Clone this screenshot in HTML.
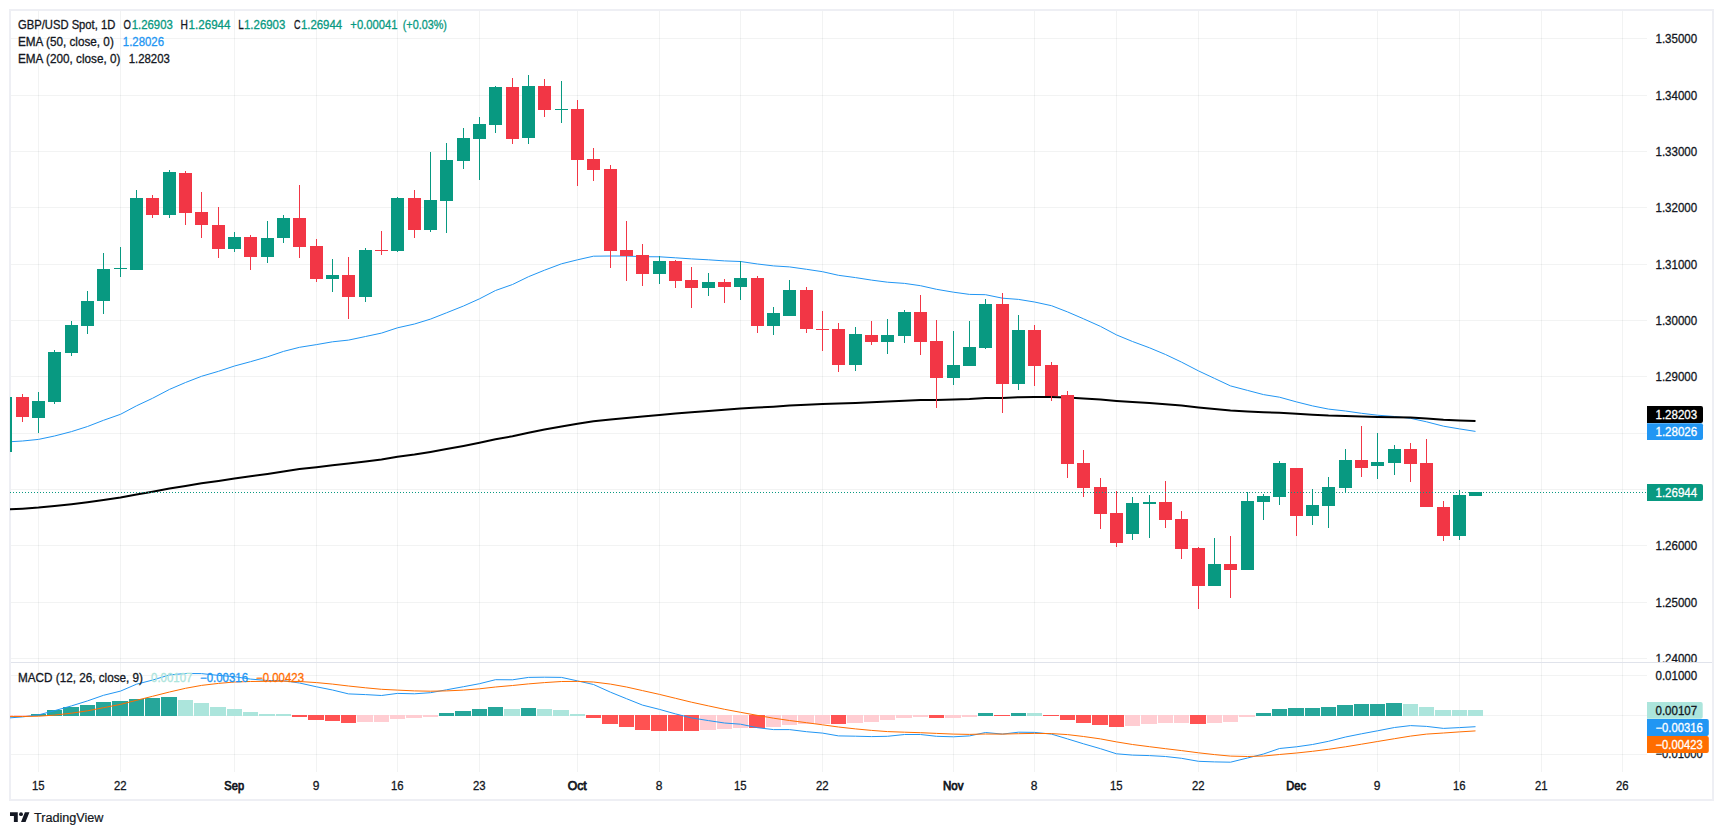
<!DOCTYPE html>
<html><head><meta charset="utf-8"><title>GBP/USD chart</title><style>html,body{margin:0;padding:0;background:#fff}svg{display:block}</style></head><body>
<svg width="1723" height="835" viewBox="0 0 1723 835" font-family='"Liberation Sans", Arial, sans-serif' font-size="12" fill="#131722">
<rect width="1723" height="835" fill="#fff"/>
<defs><clipPath id="pane"><rect x="10" y="10" width="1637" height="652"/></clipPath><clipPath id="mp"><rect x="10" y="663" width="1637" height="109"/></clipPath><clipPath id="ax1"><rect x="1647" y="10" width="66" height="652"/></clipPath></defs>
<g shape-rendering="crispEdges" fill="rgba(42,46,57,0.06)">
<rect x="38" y="11" width="1" height="761"/>
<rect x="120" y="11" width="1" height="761"/>
<rect x="234" y="11" width="1" height="761"/>
<rect x="316" y="11" width="1" height="761"/>
<rect x="397" y="11" width="1" height="761"/>
<rect x="479" y="11" width="1" height="761"/>
<rect x="577" y="11" width="1" height="761"/>
<rect x="659" y="11" width="1" height="761"/>
<rect x="740" y="11" width="1" height="761"/>
<rect x="822" y="11" width="1" height="761"/>
<rect x="953" y="11" width="1" height="761"/>
<rect x="1034" y="11" width="1" height="761"/>
<rect x="1116" y="11" width="1" height="761"/>
<rect x="1198" y="11" width="1" height="761"/>
<rect x="1296" y="11" width="1" height="761"/>
<rect x="1377" y="11" width="1" height="761"/>
<rect x="1459" y="11" width="1" height="761"/>
<rect x="1541" y="11" width="1" height="761"/>
<rect x="1622" y="11" width="1" height="761"/>
<rect x="11" y="38" width="1636" height="1"/>
<rect x="11" y="95" width="1636" height="1"/>
<rect x="11" y="151" width="1636" height="1"/>
<rect x="11" y="207" width="1636" height="1"/>
<rect x="11" y="264" width="1636" height="1"/>
<rect x="11" y="320" width="1636" height="1"/>
<rect x="11" y="376" width="1636" height="1"/>
<rect x="11" y="433" width="1636" height="1"/>
<rect x="11" y="489" width="1636" height="1"/>
<rect x="11" y="545" width="1636" height="1"/>
<rect x="11" y="602" width="1636" height="1"/>
<rect x="11" y="658" width="1636" height="1"/>
<rect x="11" y="675" width="1636" height="1"/>
<rect x="11" y="715" width="1636" height="1"/>
<rect x="11" y="754" width="1636" height="1"/>
</g>
<rect x="10" y="662" width="1703" height="1" fill="#E0E3EB" shape-rendering="crispEdges"/>
<rect x="10" y="10" width="1703" height="790" fill="none" stroke="#EEEFF4" stroke-width="2"/>
<g clip-path="url(#pane)">
<polyline points="5.5,442.0 22.5,441.0 38.5,439.4 54.5,436.0 71.5,431.6 87.5,426.5 103.5,420.3 120.5,414.3 136.5,405.8 152.5,398.3 169.5,389.4 185.5,382.5 201.5,376.3 218.5,371.3 234.5,366.0 250.5,361.7 267.5,356.8 283.5,351.4 299.5,347.3 316.5,344.6 332.5,341.8 348.5,340.1 365.5,336.5 381.5,333.1 397.5,327.8 414.5,324.0 430.5,319.1 446.5,312.8 463.5,306.0 479.5,298.8 495.5,290.5 512.5,284.5 528.5,276.7 544.5,270.2 561.5,263.8 577.5,259.8 593.5,256.2 610.5,256.0 626.5,256.0 642.5,256.7 659.5,256.8 675.5,257.8 691.5,258.9 708.5,259.8 724.5,260.9 740.5,261.5 757.5,264.0 773.5,265.9 789.5,266.9 806.5,269.3 822.5,271.7 838.5,275.3 855.5,277.6 871.5,280.1 887.5,282.2 904.5,283.4 920.5,285.7 936.5,289.3 953.5,292.2 969.5,294.4 985.5,294.7 1002.5,298.2 1018.5,299.4 1034.5,302.0 1051.5,305.7 1067.5,311.9 1083.5,318.8 1100.5,326.4 1116.5,334.9 1132.5,341.5 1149.5,347.8 1165.5,354.5 1181.5,362.1 1198.5,370.9 1214.5,378.4 1230.5,385.9 1247.5,390.4 1263.5,394.6 1279.5,397.2 1296.5,401.9 1312.5,405.9 1328.5,409.1 1345.5,411.0 1361.5,413.3 1377.5,415.2 1394.5,416.5 1410.5,418.3 1426.5,421.8 1443.5,426.2 1459.5,428.9 1475.5,431.4" fill="none" stroke="#2196F3" stroke-width="1" stroke-linejoin="round"/>
<polyline points="5.5,509.6 22.5,508.7 38.5,507.6 54.5,506.0 71.5,504.2 87.5,502.2 103.5,499.9 120.5,497.6 136.5,494.6 152.5,491.8 169.5,488.6 185.5,485.9 201.5,483.3 218.5,480.9 234.5,478.5 250.5,476.3 267.5,473.9 283.5,471.4 299.5,469.1 316.5,467.2 332.5,465.3 348.5,463.6 365.5,461.5 381.5,459.4 397.5,456.8 414.5,454.6 430.5,452.0 446.5,449.1 463.5,446.0 479.5,442.8 495.5,439.3 512.5,436.3 528.5,432.8 544.5,429.6 561.5,426.4 577.5,423.7 593.5,421.2 610.5,419.5 626.5,417.9 642.5,416.4 659.5,414.9 675.5,413.5 691.5,412.3 708.5,411.0 724.5,409.7 740.5,408.4 757.5,407.6 773.5,406.7 789.5,405.5 806.5,404.7 822.5,404.0 838.5,403.6 855.5,402.9 871.5,402.3 887.5,401.6 904.5,400.7 920.5,400.1 936.5,399.9 953.5,399.5 969.5,399.0 985.5,398.1 1002.5,397.9 1018.5,397.2 1034.5,396.9 1051.5,396.9 1067.5,397.6 1083.5,398.5 1100.5,399.6 1116.5,401.0 1132.5,402.1 1149.5,403.0 1165.5,404.2 1181.5,405.6 1198.5,407.4 1214.5,409.0 1230.5,410.6 1247.5,411.5 1263.5,412.3 1279.5,412.8 1296.5,413.8 1312.5,414.7 1328.5,415.5 1345.5,415.9 1361.5,416.4 1377.5,416.9 1394.5,417.2 1410.5,417.6 1426.5,418.5 1443.5,419.7 1459.5,420.4 1475.5,421.1" fill="none" stroke="#000" stroke-width="2" stroke-linejoin="round"/>
<g shape-rendering="crispEdges">
<rect x="-1" y="397" width="13" height="55" fill="#089981"/>
<rect x="22" y="394" width="1" height="28" fill="#F23645"/>
<rect x="16" y="397" width="13" height="20" fill="#F23645"/>
<rect x="38" y="392" width="1" height="41" fill="#089981"/>
<rect x="32" y="401" width="13" height="17" fill="#089981"/>
<rect x="54" y="350" width="1" height="54" fill="#089981"/>
<rect x="48" y="352" width="13" height="50" fill="#089981"/>
<rect x="71" y="321" width="1" height="35" fill="#089981"/>
<rect x="65" y="325" width="13" height="28" fill="#089981"/>
<rect x="87" y="291" width="1" height="43" fill="#089981"/>
<rect x="81" y="301" width="13" height="25" fill="#089981"/>
<rect x="103" y="253" width="1" height="61" fill="#089981"/>
<rect x="97" y="269" width="13" height="32" fill="#089981"/>
<rect x="120" y="247" width="1" height="30" fill="#089981"/>
<rect x="114" y="268" width="13" height="1" fill="#089981"/>
<rect x="136" y="190" width="1" height="80" fill="#089981"/>
<rect x="130" y="198" width="13" height="72" fill="#089981"/>
<rect x="152" y="195" width="1" height="23" fill="#F23645"/>
<rect x="146" y="198" width="13" height="17" fill="#F23645"/>
<rect x="169" y="170" width="1" height="48" fill="#089981"/>
<rect x="163" y="172" width="13" height="43" fill="#089981"/>
<rect x="185" y="171" width="1" height="54" fill="#F23645"/>
<rect x="179" y="173" width="13" height="40" fill="#F23645"/>
<rect x="201" y="192" width="1" height="46" fill="#F23645"/>
<rect x="195" y="212" width="13" height="13" fill="#F23645"/>
<rect x="218" y="207" width="1" height="51" fill="#F23645"/>
<rect x="212" y="225" width="13" height="24" fill="#F23645"/>
<rect x="234" y="232" width="1" height="20" fill="#089981"/>
<rect x="228" y="237" width="13" height="12" fill="#089981"/>
<rect x="250" y="235" width="1" height="35" fill="#F23645"/>
<rect x="244" y="237" width="13" height="20" fill="#F23645"/>
<rect x="267" y="221" width="1" height="42" fill="#089981"/>
<rect x="261" y="238" width="13" height="19" fill="#089981"/>
<rect x="283" y="215" width="1" height="28" fill="#089981"/>
<rect x="277" y="218" width="13" height="20" fill="#089981"/>
<rect x="299" y="185" width="1" height="73" fill="#F23645"/>
<rect x="293" y="218" width="13" height="29" fill="#F23645"/>
<rect x="316" y="239" width="1" height="43" fill="#F23645"/>
<rect x="310" y="246" width="13" height="33" fill="#F23645"/>
<rect x="332" y="259" width="1" height="33" fill="#089981"/>
<rect x="326" y="275" width="13" height="4" fill="#089981"/>
<rect x="348" y="257" width="1" height="62" fill="#F23645"/>
<rect x="342" y="275" width="13" height="22" fill="#F23645"/>
<rect x="365" y="248" width="1" height="54" fill="#089981"/>
<rect x="359" y="250" width="13" height="47" fill="#089981"/>
<rect x="381" y="231" width="1" height="24" fill="#F23645"/>
<rect x="375" y="250" width="13" height="1" fill="#F23645"/>
<rect x="397" y="197" width="1" height="55" fill="#089981"/>
<rect x="391" y="198" width="13" height="53" fill="#089981"/>
<rect x="414" y="190" width="1" height="48" fill="#F23645"/>
<rect x="408" y="198" width="13" height="32" fill="#F23645"/>
<rect x="430" y="152" width="1" height="80" fill="#089981"/>
<rect x="424" y="200" width="13" height="30" fill="#089981"/>
<rect x="446" y="143" width="1" height="90" fill="#089981"/>
<rect x="440" y="160" width="13" height="41" fill="#089981"/>
<rect x="463" y="128" width="1" height="41" fill="#089981"/>
<rect x="457" y="138" width="13" height="23" fill="#089981"/>
<rect x="479" y="117" width="1" height="63" fill="#089981"/>
<rect x="473" y="124" width="13" height="15" fill="#089981"/>
<rect x="495" y="86" width="1" height="47" fill="#089981"/>
<rect x="489" y="87" width="13" height="38" fill="#089981"/>
<rect x="512" y="78" width="1" height="66" fill="#F23645"/>
<rect x="506" y="87" width="13" height="52" fill="#F23645"/>
<rect x="528" y="75" width="1" height="69" fill="#089981"/>
<rect x="522" y="86" width="13" height="52" fill="#089981"/>
<rect x="544" y="79" width="1" height="38" fill="#F23645"/>
<rect x="538" y="86" width="13" height="24" fill="#F23645"/>
<rect x="561" y="81" width="1" height="42" fill="#089981"/>
<rect x="555" y="109" width="13" height="1" fill="#089981"/>
<rect x="577" y="100" width="1" height="86" fill="#F23645"/>
<rect x="571" y="109" width="13" height="51" fill="#F23645"/>
<rect x="593" y="148" width="1" height="33" fill="#F23645"/>
<rect x="587" y="159" width="13" height="11" fill="#F23645"/>
<rect x="610" y="165" width="1" height="103" fill="#F23645"/>
<rect x="604" y="169" width="13" height="82" fill="#F23645"/>
<rect x="626" y="221" width="1" height="60" fill="#F23645"/>
<rect x="620" y="250" width="13" height="6" fill="#F23645"/>
<rect x="642" y="244" width="1" height="42" fill="#F23645"/>
<rect x="636" y="255" width="13" height="19" fill="#F23645"/>
<rect x="659" y="256" width="1" height="28" fill="#089981"/>
<rect x="653" y="261" width="13" height="13" fill="#089981"/>
<rect x="675" y="260" width="1" height="28" fill="#F23645"/>
<rect x="669" y="261" width="13" height="20" fill="#F23645"/>
<rect x="691" y="267" width="1" height="41" fill="#F23645"/>
<rect x="685" y="280" width="13" height="8" fill="#F23645"/>
<rect x="708" y="273" width="1" height="23" fill="#089981"/>
<rect x="702" y="282" width="13" height="6" fill="#089981"/>
<rect x="724" y="279" width="1" height="24" fill="#F23645"/>
<rect x="718" y="282" width="13" height="5" fill="#F23645"/>
<rect x="740" y="261" width="1" height="39" fill="#089981"/>
<rect x="734" y="278" width="13" height="9" fill="#089981"/>
<rect x="757" y="276" width="1" height="57" fill="#F23645"/>
<rect x="751" y="278" width="13" height="48" fill="#F23645"/>
<rect x="773" y="307" width="1" height="28" fill="#089981"/>
<rect x="767" y="313" width="13" height="13" fill="#089981"/>
<rect x="789" y="280" width="1" height="36" fill="#089981"/>
<rect x="783" y="290" width="13" height="26" fill="#089981"/>
<rect x="806" y="287" width="1" height="46" fill="#F23645"/>
<rect x="800" y="290" width="13" height="39" fill="#F23645"/>
<rect x="822" y="311" width="1" height="40" fill="#F23645"/>
<rect x="816" y="329" width="13" height="1" fill="#F23645"/>
<rect x="838" y="323" width="1" height="49" fill="#F23645"/>
<rect x="832" y="329" width="13" height="36" fill="#F23645"/>
<rect x="855" y="327" width="1" height="44" fill="#089981"/>
<rect x="849" y="334" width="13" height="31" fill="#089981"/>
<rect x="871" y="321" width="1" height="24" fill="#F23645"/>
<rect x="865" y="335" width="13" height="7" fill="#F23645"/>
<rect x="887" y="319" width="1" height="35" fill="#089981"/>
<rect x="881" y="335" width="13" height="7" fill="#089981"/>
<rect x="904" y="310" width="1" height="33" fill="#089981"/>
<rect x="898" y="312" width="13" height="24" fill="#089981"/>
<rect x="920" y="295" width="1" height="60" fill="#F23645"/>
<rect x="914" y="312" width="13" height="30" fill="#F23645"/>
<rect x="936" y="320" width="1" height="88" fill="#F23645"/>
<rect x="930" y="341" width="13" height="37" fill="#F23645"/>
<rect x="953" y="331" width="1" height="54" fill="#089981"/>
<rect x="947" y="365" width="13" height="13" fill="#089981"/>
<rect x="969" y="321" width="1" height="45" fill="#089981"/>
<rect x="963" y="347" width="13" height="19" fill="#089981"/>
<rect x="985" y="299" width="1" height="50" fill="#089981"/>
<rect x="979" y="304" width="13" height="44" fill="#089981"/>
<rect x="1002" y="293" width="1" height="120" fill="#F23645"/>
<rect x="996" y="304" width="13" height="80" fill="#F23645"/>
<rect x="1018" y="315" width="1" height="75" fill="#089981"/>
<rect x="1012" y="330" width="13" height="54" fill="#089981"/>
<rect x="1034" y="325" width="1" height="61" fill="#F23645"/>
<rect x="1028" y="330" width="13" height="36" fill="#F23645"/>
<rect x="1051" y="362" width="1" height="39" fill="#F23645"/>
<rect x="1045" y="365" width="13" height="31" fill="#F23645"/>
<rect x="1067" y="391" width="1" height="87" fill="#F23645"/>
<rect x="1061" y="395" width="13" height="69" fill="#F23645"/>
<rect x="1083" y="450" width="1" height="47" fill="#F23645"/>
<rect x="1077" y="463" width="13" height="25" fill="#F23645"/>
<rect x="1100" y="478" width="1" height="51" fill="#F23645"/>
<rect x="1094" y="487" width="13" height="27" fill="#F23645"/>
<rect x="1116" y="491" width="1" height="56" fill="#F23645"/>
<rect x="1110" y="513" width="13" height="30" fill="#F23645"/>
<rect x="1132" y="497" width="1" height="43" fill="#089981"/>
<rect x="1126" y="503" width="13" height="31" fill="#089981"/>
<rect x="1149" y="495" width="1" height="43" fill="#089981"/>
<rect x="1143" y="502" width="13" height="2" fill="#089981"/>
<rect x="1165" y="481" width="1" height="47" fill="#F23645"/>
<rect x="1159" y="502" width="13" height="18" fill="#F23645"/>
<rect x="1181" y="511" width="1" height="48" fill="#F23645"/>
<rect x="1175" y="519" width="13" height="30" fill="#F23645"/>
<rect x="1198" y="547" width="1" height="62" fill="#F23645"/>
<rect x="1192" y="548" width="13" height="38" fill="#F23645"/>
<rect x="1214" y="538" width="1" height="48" fill="#089981"/>
<rect x="1208" y="564" width="13" height="22" fill="#089981"/>
<rect x="1230" y="536" width="1" height="62" fill="#F23645"/>
<rect x="1224" y="564" width="13" height="6" fill="#F23645"/>
<rect x="1247" y="492" width="1" height="78" fill="#089981"/>
<rect x="1241" y="501" width="13" height="69" fill="#089981"/>
<rect x="1263" y="494" width="1" height="26" fill="#089981"/>
<rect x="1257" y="496" width="13" height="6" fill="#089981"/>
<rect x="1279" y="461" width="1" height="44" fill="#089981"/>
<rect x="1273" y="463" width="13" height="34" fill="#089981"/>
<rect x="1296" y="468" width="1" height="68" fill="#F23645"/>
<rect x="1290" y="468" width="13" height="48" fill="#F23645"/>
<rect x="1312" y="489" width="1" height="36" fill="#089981"/>
<rect x="1306" y="505" width="13" height="11" fill="#089981"/>
<rect x="1328" y="477" width="1" height="51" fill="#089981"/>
<rect x="1322" y="487" width="13" height="19" fill="#089981"/>
<rect x="1345" y="449" width="1" height="44" fill="#089981"/>
<rect x="1339" y="460" width="13" height="28" fill="#089981"/>
<rect x="1361" y="426" width="1" height="51" fill="#F23645"/>
<rect x="1355" y="460" width="13" height="8" fill="#F23645"/>
<rect x="1377" y="433" width="1" height="46" fill="#089981"/>
<rect x="1371" y="462" width="13" height="4" fill="#089981"/>
<rect x="1394" y="445" width="1" height="30" fill="#089981"/>
<rect x="1388" y="449" width="13" height="14" fill="#089981"/>
<rect x="1410" y="443" width="1" height="39" fill="#F23645"/>
<rect x="1404" y="449" width="13" height="15" fill="#F23645"/>
<rect x="1426" y="439" width="1" height="68" fill="#F23645"/>
<rect x="1420" y="463" width="13" height="44" fill="#F23645"/>
<rect x="1443" y="501" width="1" height="40" fill="#F23645"/>
<rect x="1437" y="507" width="13" height="29" fill="#F23645"/>
<rect x="1459" y="490" width="1" height="50" fill="#089981"/>
<rect x="1453" y="495" width="13" height="41" fill="#089981"/>
<rect x="1469" y="492" width="13" height="4" fill="#089981"/>
</g>
<line x1="10" y1="492.5" x2="1647" y2="492.5" stroke="#089981" stroke-width="1" stroke-dasharray="1 2" shape-rendering="crispEdges"/>
</g>
<g clip-path="url(#mp)">
<g shape-rendering="crispEdges">
<rect x="-2" y="715" width="15" height="1" fill="#FFCDD2"/>
<rect x="14" y="715" width="16" height="1" fill="#FFCDD2"/>
<rect x="31" y="714" width="15" height="2" fill="#26A69A"/>
<rect x="47" y="710" width="15" height="6" fill="#26A69A"/>
<rect x="63" y="707" width="16" height="9" fill="#26A69A"/>
<rect x="80" y="705" width="15" height="11" fill="#26A69A"/>
<rect x="96" y="702" width="15" height="14" fill="#26A69A"/>
<rect x="112" y="701" width="16" height="15" fill="#26A69A"/>
<rect x="129" y="699" width="15" height="17" fill="#26A69A"/>
<rect x="145" y="698" width="15" height="18" fill="#26A69A"/>
<rect x="161" y="697" width="16" height="19" fill="#26A69A"/>
<rect x="178" y="700" width="15" height="16" fill="#ACE5DC"/>
<rect x="194" y="703" width="15" height="13" fill="#ACE5DC"/>
<rect x="210" y="707" width="16" height="9" fill="#ACE5DC"/>
<rect x="227" y="709" width="15" height="7" fill="#ACE5DC"/>
<rect x="243" y="712" width="15" height="4" fill="#ACE5DC"/>
<rect x="259" y="714" width="16" height="2" fill="#ACE5DC"/>
<rect x="276" y="714" width="15" height="2" fill="#ACE5DC"/>
<rect x="292" y="715" width="15" height="2" fill="#FF5252"/>
<rect x="308" y="715" width="16" height="5" fill="#FF5252"/>
<rect x="325" y="715" width="15" height="6" fill="#FF5252"/>
<rect x="341" y="715" width="15" height="8" fill="#FF5252"/>
<rect x="357" y="715" width="16" height="7" fill="#FFCDD2"/>
<rect x="374" y="715" width="15" height="7" fill="#FFCDD2"/>
<rect x="390" y="715" width="15" height="4" fill="#FFCDD2"/>
<rect x="406" y="715" width="16" height="3" fill="#FFCDD2"/>
<rect x="423" y="715" width="15" height="2" fill="#FFCDD2"/>
<rect x="439" y="713" width="15" height="3" fill="#26A69A"/>
<rect x="455" y="711" width="16" height="5" fill="#26A69A"/>
<rect x="472" y="709" width="15" height="7" fill="#26A69A"/>
<rect x="488" y="707" width="15" height="9" fill="#26A69A"/>
<rect x="504" y="709" width="16" height="7" fill="#ACE5DC"/>
<rect x="521" y="708" width="15" height="8" fill="#26A69A"/>
<rect x="537" y="709" width="15" height="7" fill="#ACE5DC"/>
<rect x="553" y="710" width="16" height="6" fill="#ACE5DC"/>
<rect x="570" y="714" width="15" height="2" fill="#ACE5DC"/>
<rect x="586" y="715" width="15" height="3" fill="#FF5252"/>
<rect x="602" y="715" width="16" height="9" fill="#FF5252"/>
<rect x="619" y="715" width="15" height="12" fill="#FF5252"/>
<rect x="635" y="715" width="15" height="15" fill="#FF5252"/>
<rect x="651" y="715" width="16" height="16" fill="#FF5252"/>
<rect x="668" y="715" width="15" height="16" fill="#FF5252"/>
<rect x="684" y="715" width="15" height="16" fill="#FF5252"/>
<rect x="700" y="715" width="16" height="15" fill="#FFCDD2"/>
<rect x="717" y="715" width="15" height="14" fill="#FFCDD2"/>
<rect x="733" y="715" width="15" height="13" fill="#FFCDD2"/>
<rect x="749" y="715" width="16" height="13" fill="#FF5252"/>
<rect x="766" y="715" width="15" height="12" fill="#FFCDD2"/>
<rect x="782" y="715" width="15" height="10" fill="#FFCDD2"/>
<rect x="798" y="715" width="16" height="9" fill="#FFCDD2"/>
<rect x="815" y="715" width="15" height="9" fill="#FFCDD2"/>
<rect x="831" y="715" width="15" height="9" fill="#FF5252"/>
<rect x="847" y="715" width="16" height="8" fill="#FFCDD2"/>
<rect x="864" y="715" width="15" height="7" fill="#FFCDD2"/>
<rect x="880" y="715" width="15" height="5" fill="#FFCDD2"/>
<rect x="896" y="715" width="16" height="3" fill="#FFCDD2"/>
<rect x="913" y="715" width="15" height="2" fill="#FFCDD2"/>
<rect x="929" y="715" width="15" height="3" fill="#FF5252"/>
<rect x="945" y="715" width="16" height="3" fill="#FFCDD2"/>
<rect x="962" y="715" width="15" height="2" fill="#FFCDD2"/>
<rect x="978" y="713" width="15" height="3" fill="#26A69A"/>
<rect x="994" y="715" width="16" height="1" fill="#FF5252"/>
<rect x="1011" y="713" width="15" height="3" fill="#26A69A"/>
<rect x="1027" y="713" width="15" height="3" fill="#ACE5DC"/>
<rect x="1043" y="715" width="16" height="1" fill="#FF5252"/>
<rect x="1060" y="715" width="15" height="5" fill="#FF5252"/>
<rect x="1076" y="715" width="15" height="8" fill="#FF5252"/>
<rect x="1092" y="715" width="16" height="10" fill="#FF5252"/>
<rect x="1109" y="715" width="15" height="12" fill="#FF5252"/>
<rect x="1125" y="715" width="15" height="11" fill="#FFCDD2"/>
<rect x="1141" y="715" width="16" height="9" fill="#FFCDD2"/>
<rect x="1158" y="715" width="15" height="8" fill="#FFCDD2"/>
<rect x="1174" y="715" width="15" height="8" fill="#FFCDD2"/>
<rect x="1190" y="715" width="16" height="9" fill="#FF5252"/>
<rect x="1207" y="715" width="15" height="8" fill="#FFCDD2"/>
<rect x="1223" y="715" width="15" height="7" fill="#FFCDD2"/>
<rect x="1239" y="715" width="16" height="2" fill="#FFCDD2"/>
<rect x="1256" y="713" width="15" height="3" fill="#26A69A"/>
<rect x="1272" y="709" width="15" height="7" fill="#26A69A"/>
<rect x="1288" y="708" width="16" height="8" fill="#26A69A"/>
<rect x="1305" y="708" width="15" height="8" fill="#26A69A"/>
<rect x="1321" y="707" width="15" height="9" fill="#26A69A"/>
<rect x="1337" y="705" width="16" height="11" fill="#26A69A"/>
<rect x="1354" y="704" width="15" height="12" fill="#26A69A"/>
<rect x="1370" y="704" width="15" height="12" fill="#26A69A"/>
<rect x="1386" y="703" width="16" height="13" fill="#26A69A"/>
<rect x="1403" y="704" width="15" height="12" fill="#ACE5DC"/>
<rect x="1419" y="707" width="15" height="9" fill="#ACE5DC"/>
<rect x="1435" y="710" width="16" height="6" fill="#ACE5DC"/>
<rect x="1452" y="710" width="15" height="6" fill="#ACE5DC"/>
<rect x="1468" y="710" width="15" height="6" fill="#ACE5DC"/>
</g>
<polyline points="5.5,718.2 22.5,716.9 38.5,714.9 54.5,710.7 71.5,705.9 87.5,700.9 103.5,695.3 120.5,691.1 136.5,684.2 152.5,680.1 169.5,674.9 185.5,673.5 201.5,673.6 218.5,675.4 234.5,676.7 250.5,679.1 267.5,680.5 283.5,680.7 299.5,683.0 316.5,686.8 332.5,690.0 348.5,693.9 365.5,694.6 381.5,695.5 397.5,693.4 414.5,693.8 430.5,692.7 446.5,689.8 463.5,686.7 479.5,683.7 495.5,679.7 512.5,679.8 528.5,677.4 544.5,677.2 561.5,677.4 577.5,680.9 593.5,684.5 610.5,692.2 626.5,698.7 642.5,705.1 659.5,709.4 675.5,713.9 691.5,717.9 708.5,720.6 724.5,723.0 740.5,724.2 757.5,727.7 773.5,729.6 789.5,729.6 806.5,731.7 822.5,733.1 838.5,735.9 855.5,736.2 871.5,736.6 887.5,736.3 904.5,734.5 920.5,734.5 936.5,736.3 953.5,736.8 969.5,735.9 985.5,732.5 1002.5,734.1 1018.5,732.2 1034.5,732.4 1051.5,734.1 1067.5,738.9 1083.5,743.8 1100.5,748.7 1116.5,753.8 1132.5,755.1 1149.5,755.6 1165.5,756.5 1181.5,758.3 1198.5,761.3 1214.5,761.9 1230.5,762.2 1247.5,758.0 1263.5,754.0 1279.5,748.5 1296.5,746.8 1312.5,744.5 1328.5,741.3 1345.5,737.0 1361.5,733.8 1377.5,730.8 1394.5,727.5 1410.5,725.6 1426.5,726.4 1443.5,728.4 1459.5,727.6 1475.5,726.7" fill="none" stroke="#2196F3" stroke-width="1" stroke-linejoin="round"/>
<polyline points="5.5,716.4 22.5,716.5 38.5,716.2 54.5,715.1 71.5,713.2 87.5,710.8 103.5,707.7 120.5,704.4 136.5,700.3 152.5,696.3 169.5,692.0 185.5,688.3 201.5,685.4 218.5,683.4 234.5,682.0 250.5,681.5 267.5,681.3 283.5,681.2 299.5,681.5 316.5,682.6 332.5,684.1 348.5,686.0 365.5,687.8 381.5,689.3 397.5,690.1 414.5,690.9 430.5,691.2 446.5,690.9 463.5,690.1 479.5,688.8 495.5,687.0 512.5,685.5 528.5,683.9 544.5,682.6 561.5,681.5 577.5,681.4 593.5,682.0 610.5,684.1 626.5,687.0 642.5,690.6 659.5,694.4 675.5,698.3 691.5,702.2 708.5,705.9 724.5,709.3 740.5,712.3 757.5,715.4 773.5,718.2 789.5,720.5 806.5,722.7 822.5,724.8 838.5,727.0 855.5,728.9 871.5,730.4 887.5,731.6 904.5,732.2 920.5,732.7 936.5,733.4 953.5,734.1 969.5,734.4 985.5,734.0 1002.5,734.1 1018.5,733.7 1034.5,733.4 1051.5,733.6 1067.5,734.6 1083.5,736.5 1100.5,738.9 1116.5,741.9 1132.5,744.5 1149.5,746.7 1165.5,748.7 1181.5,750.6 1198.5,752.8 1214.5,754.6 1230.5,756.1 1247.5,756.5 1263.5,756.0 1279.5,754.5 1296.5,753.0 1312.5,751.3 1328.5,749.3 1345.5,746.8 1361.5,744.2 1377.5,741.5 1394.5,738.7 1410.5,736.1 1426.5,734.1 1443.5,733.0 1459.5,731.9 1475.5,730.9" fill="none" stroke="#FF6D00" stroke-width="1" stroke-linejoin="round"/>
</g>
<text x="18" y="29" textLength="97.3" lengthAdjust="spacingAndGlyphs" stroke="#131722" stroke-width="0.3">GBP/USD Spot, 1D</text>
<text x="123.4" y="29" textLength="7.4" lengthAdjust="spacingAndGlyphs" stroke="#131722" stroke-width="0.3">O</text>
<text x="131.7" y="29" textLength="41.1" lengthAdjust="spacingAndGlyphs" fill="#089981" stroke="#089981" stroke-width="0.3">1.26903</text>
<text x="180.5" y="29" textLength="7.4" lengthAdjust="spacingAndGlyphs" stroke="#131722" stroke-width="0.3">H</text>
<text x="188.6" y="29" textLength="41.9" lengthAdjust="spacingAndGlyphs" fill="#089981" stroke="#089981" stroke-width="0.3">1.26944</text>
<text x="238.3" y="29" textLength="5.5" lengthAdjust="spacingAndGlyphs" stroke="#131722" stroke-width="0.3">L</text>
<text x="244" y="29" textLength="41.3" lengthAdjust="spacingAndGlyphs" fill="#089981" stroke="#089981" stroke-width="0.3">1.26903</text>
<text x="294" y="29" textLength="6.5" lengthAdjust="spacingAndGlyphs" stroke="#131722" stroke-width="0.3">C</text>
<text x="300.9" y="29" textLength="41.3" lengthAdjust="spacingAndGlyphs" fill="#089981" stroke="#089981" stroke-width="0.3">1.26944</text>
<text x="350.3" y="29" textLength="47.3" lengthAdjust="spacingAndGlyphs" fill="#089981" stroke="#089981" stroke-width="0.3">+0.00041</text>
<text x="402.7" y="29" textLength="44.3" lengthAdjust="spacingAndGlyphs" fill="#089981" stroke="#089981" stroke-width="0.3">(+0.03%)</text>
<text x="18" y="45.7" textLength="95.8" lengthAdjust="spacingAndGlyphs" stroke="#131722" stroke-width="0.3">EMA (50, close, 0)</text>
<text x="122.8" y="45.7" textLength="41.2" lengthAdjust="spacingAndGlyphs" fill="#2196F3" stroke="#2196F3" stroke-width="0.3">1.28026</text>
<text x="18" y="62.7" textLength="102.4" lengthAdjust="spacingAndGlyphs" stroke="#131722" stroke-width="0.3">EMA (200, close, 0)</text>
<text x="128.7" y="62.7" textLength="41.1" lengthAdjust="spacingAndGlyphs" stroke="#131722" stroke-width="0.3">1.28203</text>
<text x="18" y="682.3" textLength="125" lengthAdjust="spacingAndGlyphs" stroke="#131722" stroke-width="0.3">MACD (12, 26, close, 9)</text>
<text x="151" y="682.3" textLength="41.5" lengthAdjust="spacingAndGlyphs" fill="#ACE5DC" stroke="#ACE5DC" stroke-width="0.3">0.00107</text>
<text x="200" y="682.3" textLength="48" lengthAdjust="spacingAndGlyphs" fill="#2196F3" stroke="#2196F3" stroke-width="0.3">−0.00316</text>
<text x="256" y="682.3" textLength="48" lengthAdjust="spacingAndGlyphs" fill="#FF6D00" stroke="#FF6D00" stroke-width="0.3">−0.00423</text>
<g clip-path="url(#ax1)">
<text x="1655.5" y="42.9" textLength="41.7" lengthAdjust="spacingAndGlyphs" stroke="#131722" stroke-width="0.3">1.35000</text>
<text x="1655.5" y="99.9" textLength="41.7" lengthAdjust="spacingAndGlyphs" stroke="#131722" stroke-width="0.3">1.34000</text>
<text x="1655.5" y="155.9" textLength="41.7" lengthAdjust="spacingAndGlyphs" stroke="#131722" stroke-width="0.3">1.33000</text>
<text x="1655.5" y="211.9" textLength="41.7" lengthAdjust="spacingAndGlyphs" stroke="#131722" stroke-width="0.3">1.32000</text>
<text x="1655.5" y="268.9" textLength="41.7" lengthAdjust="spacingAndGlyphs" stroke="#131722" stroke-width="0.3">1.31000</text>
<text x="1655.5" y="324.9" textLength="41.7" lengthAdjust="spacingAndGlyphs" stroke="#131722" stroke-width="0.3">1.30000</text>
<text x="1655.5" y="380.9" textLength="41.7" lengthAdjust="spacingAndGlyphs" stroke="#131722" stroke-width="0.3">1.29000</text>
<text x="1655.5" y="437.9" textLength="41.7" lengthAdjust="spacingAndGlyphs" stroke="#131722" stroke-width="0.3">1.28000</text>
<text x="1655.5" y="493.9" textLength="41.7" lengthAdjust="spacingAndGlyphs" stroke="#131722" stroke-width="0.3">1.27000</text>
<text x="1655.5" y="549.9" textLength="41.7" lengthAdjust="spacingAndGlyphs" stroke="#131722" stroke-width="0.3">1.26000</text>
<text x="1655.5" y="606.9" textLength="41.7" lengthAdjust="spacingAndGlyphs" stroke="#131722" stroke-width="0.3">1.25000</text>
<text x="1655.5" y="662.9" textLength="41.7" lengthAdjust="spacingAndGlyphs" stroke="#131722" stroke-width="0.3">1.24000</text>
</g>
<text x="1655.5" y="680.2" textLength="41.7" lengthAdjust="spacingAndGlyphs" stroke="#131722" stroke-width="0.3">0.01000</text>
<text x="1655.5" y="758.3" textLength="47.2" lengthAdjust="spacingAndGlyphs" stroke="#131722" stroke-width="0.3">−0.01000</text>
<path d="M1647 406H1701A2 2 0 0 1 1703 408V421A2 2 0 0 1 1701 423H1647Z" fill="#000"/>
<text x="1655.5" y="418.9" textLength="41.7" lengthAdjust="spacingAndGlyphs" fill="#fff" stroke="#fff" stroke-width="0.3">1.28203</text>
<path d="M1647 423.3H1701A2 2 0 0 1 1703 425.3V438.0A2 2 0 0 1 1701 440.0H1647Z" fill="#2196F3"/>
<text x="1655.5" y="436.1" textLength="41.7" lengthAdjust="spacingAndGlyphs" fill="#fff" stroke="#fff" stroke-width="0.3">1.28026</text>
<path d="M1647 484H1701A2 2 0 0 1 1703 486V499A2 2 0 0 1 1701 501H1647Z" fill="#089981"/>
<text x="1655.5" y="496.9" textLength="41.7" lengthAdjust="spacingAndGlyphs" fill="#fff" stroke="#fff" stroke-width="0.3">1.26944</text>
<path d="M1647 702H1700.7A2 2 0 0 1 1702.7 704V716.7A2 2 0 0 1 1700.7 718.7H1647Z" fill="#ACE5DC"/>
<text x="1655.5" y="714.8" textLength="41.7" lengthAdjust="spacingAndGlyphs" fill="#131722" stroke="#131722" stroke-width="0.3">0.00107</text>
<path d="M1647 719H1706.8A2 2 0 0 1 1708.8 721V734A2 2 0 0 1 1706.8 736H1647Z" fill="#2196F3"/>
<text x="1655.5" y="731.9" textLength="47.2" lengthAdjust="spacingAndGlyphs" fill="#fff" stroke="#fff" stroke-width="0.3">−0.00316</text>
<path d="M1647 736H1706.8A2 2 0 0 1 1708.8 738V751A2 2 0 0 1 1706.8 753H1647Z" fill="#FF6D00"/>
<text x="1655.5" y="748.9" textLength="47.2" lengthAdjust="spacingAndGlyphs" fill="#fff" stroke="#fff" stroke-width="0.3">−0.00423</text>
<text x="38.2" y="790" textLength="12.6" lengthAdjust="spacingAndGlyphs" stroke="#131722" stroke-width="0.3" text-anchor="middle">15</text>
<text x="120.2" y="790" textLength="12.6" lengthAdjust="spacingAndGlyphs" stroke="#131722" stroke-width="0.3" text-anchor="middle">22</text>
<text x="234.2" y="790" textLength="19.7" lengthAdjust="spacingAndGlyphs" stroke="#131722" stroke-width="0.75" text-anchor="middle">Sep</text>
<text x="316.2" y="790" stroke="#131722" stroke-width="0.3" text-anchor="middle">9</text>
<text x="397.2" y="790" textLength="12.6" lengthAdjust="spacingAndGlyphs" stroke="#131722" stroke-width="0.3" text-anchor="middle">16</text>
<text x="479.2" y="790" textLength="12.6" lengthAdjust="spacingAndGlyphs" stroke="#131722" stroke-width="0.3" text-anchor="middle">23</text>
<text x="577.2" y="790" textLength="19" lengthAdjust="spacingAndGlyphs" stroke="#131722" stroke-width="0.75" text-anchor="middle">Oct</text>
<text x="659.2" y="790" stroke="#131722" stroke-width="0.3" text-anchor="middle">8</text>
<text x="740.2" y="790" textLength="12.6" lengthAdjust="spacingAndGlyphs" stroke="#131722" stroke-width="0.3" text-anchor="middle">15</text>
<text x="822.2" y="790" textLength="12.6" lengthAdjust="spacingAndGlyphs" stroke="#131722" stroke-width="0.3" text-anchor="middle">22</text>
<text x="953.2" y="790" textLength="20.5" lengthAdjust="spacingAndGlyphs" stroke="#131722" stroke-width="0.75" text-anchor="middle">Nov</text>
<text x="1034.2" y="790" stroke="#131722" stroke-width="0.3" text-anchor="middle">8</text>
<text x="1116.2" y="790" textLength="12.6" lengthAdjust="spacingAndGlyphs" stroke="#131722" stroke-width="0.3" text-anchor="middle">15</text>
<text x="1198.2" y="790" textLength="12.6" lengthAdjust="spacingAndGlyphs" stroke="#131722" stroke-width="0.3" text-anchor="middle">22</text>
<text x="1296.2" y="790" textLength="19.7" lengthAdjust="spacingAndGlyphs" stroke="#131722" stroke-width="0.75" text-anchor="middle">Dec</text>
<text x="1377.2" y="790" stroke="#131722" stroke-width="0.3" text-anchor="middle">9</text>
<text x="1459.2" y="790" textLength="12.6" lengthAdjust="spacingAndGlyphs" stroke="#131722" stroke-width="0.3" text-anchor="middle">16</text>
<text x="1541.2" y="790" textLength="12.6" lengthAdjust="spacingAndGlyphs" stroke="#131722" stroke-width="0.3" text-anchor="middle">21</text>
<text x="1622.2" y="790" textLength="12.6" lengthAdjust="spacingAndGlyphs" stroke="#131722" stroke-width="0.3" text-anchor="middle">26</text>
<g transform="translate(8.70,808.31) scale(0.648)" fill="#131722"><path d="M14 6H2v6h6v9h6V6Z"/><circle cx="19" cy="9" r="3"/><path d="M26 21h-7l6-15h7l-6 15Z"/></g>
<text x="34" y="821.8" textLength="69.5" lengthAdjust="spacingAndGlyphs" stroke="#131722" stroke-width="0.2" font-size="12">TradingView</text>
</svg>
</body></html>
